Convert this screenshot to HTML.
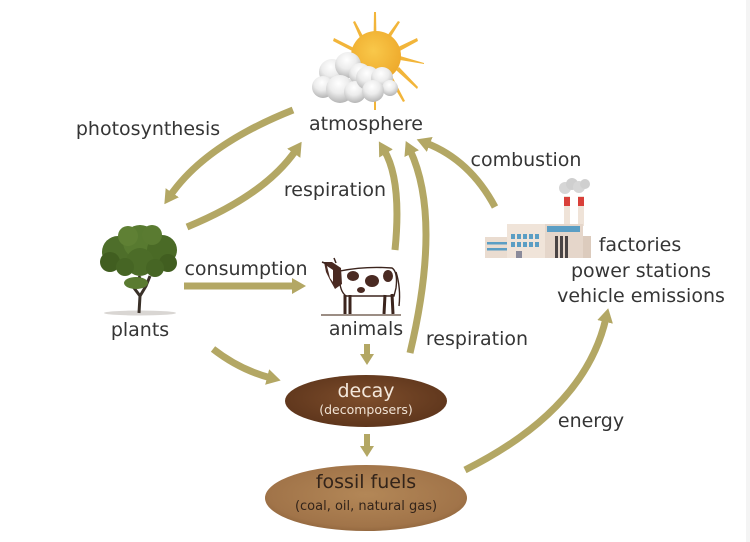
<!DOCTYPE html>
<html><head><meta charset="utf-8">
<style>
html,body{margin:0;padding:0;background:#fff;}
svg{display:block;}
text{font-family:"DejaVu Sans","Liberation Sans",sans-serif;fill:#353535;}
</style></head><body>
<svg width="750" height="542" viewBox="0 0 750 542" xmlns="http://www.w3.org/2000/svg">
<defs>
<marker id="ah" markerUnits="userSpaceOnUse" viewBox="0 0 14 16" markerWidth="14" markerHeight="16" refX="4" refY="8" orient="auto"><path d="M0,0 L14,8 L0,16 z" fill="#b3a764"/></marker>
<marker id="ahs" markerUnits="userSpaceOnUse" viewBox="0 0 11 14" markerWidth="11" markerHeight="14" refX="2" refY="7" orient="auto"><path d="M0,0 L11,7 L0,14 z" fill="#b3a764"/></marker>
<radialGradient id="gDecay" cx="50%" cy="45%" r="60%"><stop offset="0" stop-color="#7d4d2b"/><stop offset="1" stop-color="#5c341b"/></radialGradient>
<radialGradient id="gFossil" cx="50%" cy="45%" r="60%"><stop offset="0" stop-color="#b38757"/><stop offset="0.8" stop-color="#a17449"/><stop offset="1" stop-color="#8c623a"/></radialGradient>
<radialGradient id="gCloud" cx="45%" cy="30%" r="70%"><stop offset="0" stop-color="#ffffff"/><stop offset="0.5" stop-color="#ececec"/><stop offset="1" stop-color="#b5b5b5"/></radialGradient>
<radialGradient id="gSun" cx="45%" cy="40%" r="60%"><stop offset="0" stop-color="#f9c84a"/><stop offset="1" stop-color="#eeaa2c"/></radialGradient>
</defs>

<rect x="746" y="0" width="4" height="542" fill="#f4f4f4"/>

<!-- SUN -->
<g fill="#f2b53a">
  <polygon points="374,12 376,12 376.5,40 373.5,40"/>
  <polygon points="374,110 376,110 376,75 374,75"/>
  <polygon points="333,41 334,38 358,50 356,53"/>
  <polygon points="417,38 418,41 398,52 396,48"/>
  <polygon points="418,87 417,89 396,70 399,67"/>
  <polygon points="424,63 424,64 400,60 400,56"/>
  <polygon points="353,22 355,21 364,38 361,40"/>
  <polygon points="398,21 400,22 390,38 387,36"/>
  <polygon points="405,101 403,102 390,80 393,78"/>
</g>
<circle cx="376" cy="56" r="25" fill="url(#gSun)"/>
<!-- clouds -->
<g fill="url(#gCloud)">
  <circle cx="332" cy="72" r="13"/>
  <circle cx="348" cy="65" r="13"/>
  <circle cx="360" cy="74" r="11"/>
  <circle cx="323" cy="87" r="11"/>
  <circle cx="340" cy="89" r="14"/>
  <circle cx="355" cy="92" r="11"/>
  <circle cx="368" cy="78" r="12"/>
  <circle cx="382" cy="78" r="11"/>
  <circle cx="390" cy="88" r="8"/>
  <circle cx="373" cy="91" r="11"/>
</g>

<!-- TREE -->
<ellipse cx="140" cy="313" rx="36" ry="2.5" fill="#c9c4c0" opacity="0.7"/>
<path d="M139,313 L140,296 L134,288 L128,282 M140,296 L146,286 L150,276 M134,288 L140,276" stroke="#3a3129" stroke-width="3" fill="none"/>
<g>
  <circle cx="118" cy="252" r="16" fill="#4e6e2a"/>
  <circle cx="140" cy="242" r="17" fill="#587a30"/>
  <circle cx="162" cy="250" r="15" fill="#4a6a26"/>
  <circle cx="128" cy="236" r="10" fill="#5f8034"/>
  <circle cx="152" cy="235" r="10" fill="#5a7b31"/>
  <circle cx="110" cy="262" r="10" fill="#415e20"/>
  <circle cx="168" cy="263" r="9" fill="#415e20"/>
  <circle cx="140" cy="262" r="14" fill="#4c6c28"/>
  <circle cx="125" cy="267" r="9" fill="#466524"/>
  <circle cx="155" cy="268" r="9" fill="#466524"/>
  <ellipse cx="136" cy="283" rx="12" ry="6" fill="#5a7b31"/>
</g>

<!-- COW -->
<rect x="321" y="314" width="80" height="2" fill="#9b8d84"/>
<g stroke="#3b241d" stroke-width="1.4">
  <path d="M340,271 Q365,266 392,268 Q398,272 396,288 L394,296 L346,296 Q338,290 340,271 Z" fill="#fff"/>
  <path d="M345,295 L345,314 M350,295 L350,314 M385,295 L384,314 M392,294 L393,314" stroke-width="3"/>
  <path d="M396,272 Q401,288 399,306" fill="none"/>
</g>
<g fill="#4a2a22">
  <ellipse cx="353" cy="276" rx="6" ry="5"/>
  <ellipse cx="372" cy="281" rx="7" ry="6"/>
  <ellipse cx="388" cy="276" rx="5" ry="6"/>
  <ellipse cx="361" cy="290" rx="4" ry="3"/>
  <path d="M324,262 L332,262 L341,268 L342,284 L335,289 L330,280 L326,272 Z"/>
</g>
<path d="M327,266 L333,270 L333,282 L330,278 Z" fill="#fff"/>
<path d="M322,262 L327,264 M334,258 L336,263" stroke="#3b241d" stroke-width="1.5"/>

<!-- FACTORY -->
<g>
  <circle cx="565" cy="188" r="6" fill="#d6d6d6"/>
  <circle cx="572" cy="184" r="6" fill="#cfcfcf"/>
  <circle cx="579" cy="187" r="6" fill="#d6d6d6"/>
  <circle cx="585" cy="184" r="5" fill="#cfcfcf"/>
  <rect x="564" y="196" width="6" height="30" fill="#efe3d8"/>
  <rect x="578" y="196" width="6" height="30" fill="#efe3d8"/>
  <rect x="564" y="197" width="6" height="9" fill="#d9403a"/>
  <rect x="578" y="197" width="6" height="9" fill="#d9403a"/>
  <rect x="485" y="237" width="24" height="21" fill="#eadcd0"/>
  <rect x="487" y="242" width="20" height="2.5" fill="#5b9ec4"/>
  <rect x="487" y="248" width="20" height="2.5" fill="#5b9ec4"/>
  <rect x="507" y="224" width="40" height="34" fill="#f0e4d9"/>
  <rect x="545" y="224" width="38" height="34" fill="#e5d6ca"/>
  <rect x="547" y="226" width="33" height="6" fill="#5b9ec4"/>
  <rect x="583" y="236" width="8" height="22" fill="#dccbbd"/>
  <g fill="#5b9ec4">
    <rect x="511" y="234" width="4" height="5"/><rect x="517" y="234" width="4" height="5"/><rect x="523" y="234" width="4" height="5"/><rect x="529" y="234" width="4" height="5"/><rect x="535" y="234" width="4" height="5"/>
    <rect x="511" y="242" width="4" height="5"/><rect x="517" y="242" width="4" height="5"/><rect x="523" y="242" width="4" height="5"/><rect x="529" y="242" width="4" height="5"/><rect x="535" y="242" width="4" height="5"/>
  </g>
  <rect x="516" y="251" width="6" height="7" fill="#8a8a9a"/>
  <rect x="555" y="236" width="3" height="22" fill="#4a4444"/>
  <rect x="560" y="236" width="3" height="22" fill="#4a4444"/>
  <rect x="565" y="236" width="3" height="22" fill="#4a4444"/>
</g>

<!-- ARROWS -->
<g stroke="#b3a764" stroke-width="7" fill="none">
  <path d="M293,110 Q205,145 170,196" marker-end="url(#ah)"/>
  <path d="M187,227 Q265,195 296,150" marker-end="url(#ah)"/>
  <path d="M395,250 Q402,180 384,150" marker-end="url(#ah)"/>
  <path d="M410,353 Q442,218 410,150" marker-end="url(#ah)"/>
  <path d="M495,207 Q470,160 426,143" marker-end="url(#ah)"/>
  <path d="M184,286 L296,286" marker-end="url(#ah)"/>
  <path d="M213,349 Q240,370 271,378" marker-end="url(#ah)"/>
  <path d="M465,470 Q585,410 606,318" marker-end="url(#ah)"/>
</g>
<g stroke="#b3a764" stroke-width="6" fill="none">
  <path d="M367,344 L367,356" marker-end="url(#ahs)"/>
  <path d="M367,434 L367,448" marker-end="url(#ahs)"/>
</g>

<!-- ELLIPSES -->
<ellipse cx="366" cy="401" rx="81" ry="26" fill="url(#gDecay)"/>
<ellipse cx="366" cy="498" rx="101" ry="33" fill="url(#gFossil)"/>
<text x="366" y="397" text-anchor="middle" font-size="19" style="fill:#f4e8dc">decay</text>
<text x="366" y="414" text-anchor="middle" font-size="12.5" style="fill:#f0e2d4">(decomposers)</text>
<text x="366" y="488" text-anchor="middle" font-size="19" style="fill:#33241a">fossil fuels</text>
<text x="366" y="510" text-anchor="middle" font-size="13" style="fill:#33241a">(coal, oil, natural gas)</text>

<!-- LABELS -->
<g font-size="19" text-anchor="middle">
  <text x="148" y="135">photosynthesis</text>
  <text x="366" y="130">atmosphere</text>
  <text x="335" y="196">respiration</text>
  <text x="526" y="166">combustion</text>
  <text x="640" y="251">factories</text>
  <text x="641" y="277">power stations</text>
  <text x="641" y="302">vehicle emissions</text>
  <text x="246" y="275">consumption</text>
  <text x="140" y="336">plants</text>
  <text x="366" y="335">animals</text>
  <text x="477" y="345">respiration</text>
  <text x="591" y="427">energy</text>
</g>
</svg>
</body></html>
